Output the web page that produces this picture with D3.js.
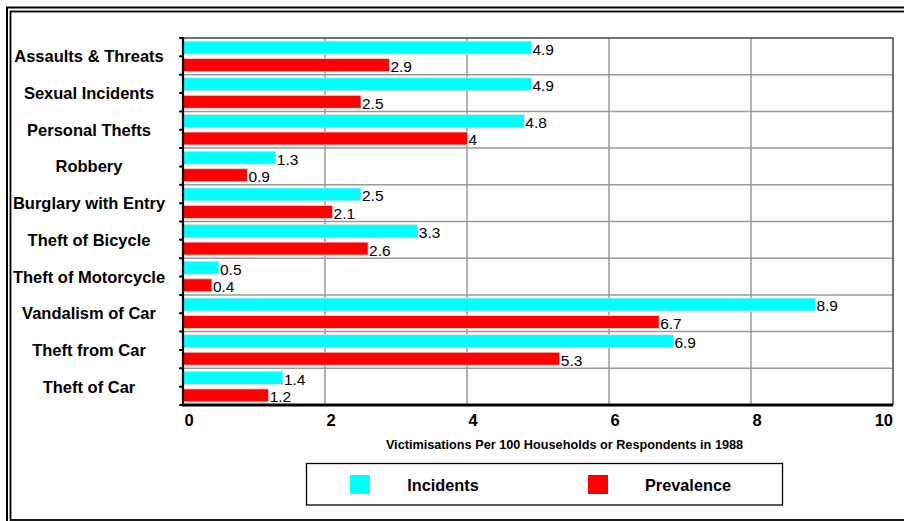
<!DOCTYPE html>
<html>
<head>
<meta charset="utf-8">
<script src="https://cdn.jsdelivr.net/npm/d3@7"></script>
<style>
  html, body { margin: 0; padding: 0; background: #fff; }
  svg { display: block; font-family: "Liberation Sans", Arial, sans-serif; }
</style>
</head>
<body>
<svg id="chart" width="904" height="521"></svg>
<script>
// Crime categories, top to bottom
const categories = [
  "Assaults & Threats", "Sexual Incidents", "Personal Thefts", "Robbery",
  "Burglary with Entry", "Theft of Bicycle", "Theft of Motorcycle",
  "Vandalism of Car", "Theft from Car", "Theft of Car"
];
// Victimisations per 100 households or respondents, 1988
const incidents  = [4.9, 4.9, 4.8, 1.3, 2.5, 3.3, 0.5, 8.9, 6.9, 1.4];
const prevalence = [2.9, 2.5, 4, 0.9, 2.1, 2.6, 0.4, 6.7, 5.3, 1.2];
const seriesNames = ["Incidents", "Prevalence"];
const seriesColors = ["#00ffff", "#ff0000"];
const xTicks = [0, 2, 4, 6, 8, 10];
const xTitle = "Victimisations Per 100 Households or Respondents in 1988";

const rows = categories.map((c, i) => ({ cat: c, values: [incidents[i], prevalence[i]] }));

const svg = d3.select("#chart");

// Double frame around the whole figure
svg.append("rect").attr("x", 7).attr("y", 7.5).attr("width", 920).attr("height", 540)
  .attr("fill", "none").attr("stroke", "#000").attr("stroke-width", 2);
svg.append("rect").attr("x", 10.5).attr("y", 11.5).attr("width", 910).attr("height", 508.5)
  .attr("fill", "none").attr("stroke", "#000").attr("stroke-width", 1.8);

const plot = { left: 183, right: 893, top: 38, bottom: 405 };

const x = d3.scaleLinear().domain([0, 10]).range([plot.left, plot.right]);
const y = d3.scaleBand().domain(categories).range([plot.top, plot.bottom]);
const ySub = d3.scaleBand().domain(seriesNames).range([0, y.bandwidth()])
  .paddingInner(0.26).paddingOuter(0.18);

const g = svg.append("g");

// Vertical gridlines
g.selectAll("line.vgrid").data(xTicks.slice(1, -1)).join("line")
  .attr("class", "vgrid")
  .attr("x1", d => x(d)).attr("x2", d => x(d))
  .attr("y1", plot.top).attr("y2", plot.bottom)
  .attr("stroke", "#9a9a9a").attr("stroke-width", 1.5);

// Horizontal gridlines between categories
g.selectAll("line.hgrid").data(categories.slice(1)).join("line")
  .attr("class", "hgrid")
  .attr("x1", plot.left).attr("x2", plot.right)
  .attr("y1", d => y(d)).attr("y2", d => y(d))
  .attr("stroke", "#9a9a9a").attr("stroke-width", 1.5);

// Top and right frame of plot area
g.append("path")
  .attr("d", `M${plot.left},${plot.top}H${plot.right}V${plot.bottom}`)
  .attr("fill", "none").attr("stroke", "#444").attr("stroke-width", 1.5);

// Bars
const rowG = g.selectAll("g.row").data(rows).join("g")
  .attr("class", "row")
  .attr("transform", d => `translate(0,${y(d.cat)})`);

rowG.selectAll("rect").data(d => d.values.map((v, i) => ({ v, s: seriesNames[i], i }))).join("rect")
  .attr("x", x(0) + 0.5)
  .attr("y", d => ySub(d.s))
  .attr("width", d => x(d.v) - x(0))
  .attr("height", ySub.bandwidth())
  .attr("fill", d => seriesColors[d.i])
  .attr("stroke", "#e8d8d8").attr("stroke-width", 0.8);

// Value labels at bar ends
rowG.selectAll("text.val").data(d => d.values.map((v, i) => ({ v, s: seriesNames[i] }))).join("text")
  .attr("class", "val")
  .attr("x", d => x(d.v) + 1.5)
  .attr("y", d => ySub(d.s) + ySub.bandwidth() + 0.5)
  .attr("font-size", 15.5)
  .attr("fill", "#000")
  .text(d => d.v);

// Y axis line and tick marks
const axisG = svg.append("g");
axisG.append("line")
  .attr("x1", plot.left).attr("x2", plot.left)
  .attr("y1", plot.top).attr("y2", plot.bottom)
  .attr("stroke", "#000").attr("stroke-width", 2.2);
const halfTicks = d3.range(0, categories.length * 2 + 1).map(k => plot.top + k * y.bandwidth() / 2);
axisG.selectAll("line.ytick").data(halfTicks).join("line")
  .attr("class", "ytick")
  .attr("x1", plot.left - 3).attr("x2", plot.left)
  .attr("y1", d => d).attr("y2", d => d)
  .attr("stroke", "#000").attr("stroke-width", 2).attr("stroke-linecap", "round");

// X axis line
axisG.append("line")
  .attr("x1", plot.left - 1).attr("x2", plot.right)
  .attr("y1", plot.bottom).attr("y2", plot.bottom)
  .attr("stroke", "#000").attr("stroke-width", 2.8);

// Category labels
svg.selectAll("text.cat").data(categories).join("text")
  .attr("class", "cat")
  .attr("x", 89)
  .attr("y", d => y(d) + y.bandwidth() / 2 + 6)
  .attr("text-anchor", "middle")
  .attr("font-weight", "bold")
  .attr("font-size", 16.5)
  .text(d => d);

// X tick labels
svg.selectAll("text.xtick").data(xTicks).join("text")
  .attr("class", "xtick")
  .attr("x", (d, i) => i === xTicks.length - 1 ? plot.right : x(d) + 6)
  .attr("y", 425.5)
  .attr("text-anchor", (d, i) => i === xTicks.length - 1 ? "end" : "middle")
  .attr("font-weight", "bold")
  .attr("font-size", 16.5)
  .text(d => d);

// X axis title
svg.append("text")
  .attr("x", 564.5).attr("y", 448.5)
  .attr("text-anchor", "middle")
  .attr("font-weight", "bold")
  .attr("font-size", 12.7)
  .text(xTitle);

// Legend
const legend = svg.append("g");
legend.append("rect")
  .attr("x", 306.5).attr("y", 463.5).attr("width", 476).attr("height", 41.5)
  .attr("fill", "#fff").attr("stroke", "#000").attr("stroke-width", 1.3);
const legendItems = [
  { name: seriesNames[0], color: seriesColors[0], sx: 350, tx: 443 },
  { name: seriesNames[1], color: seriesColors[1], sx: 588, tx: 688 }
];
legend.selectAll("rect.sw").data(legendItems).join("rect")
  .attr("class", "sw")
  .attr("x", d => d.sx).attr("y", 475)
  .attr("width", 20).attr("height", 19)
  .attr("fill", d => d.color);
legend.selectAll("text.lt").data(legendItems).join("text")
  .attr("class", "lt")
  .attr("x", d => d.tx).attr("y", 490.5)
  .attr("text-anchor", "middle")
  .attr("font-weight", "bold")
  .attr("font-size", 16.3)
  .text(d => d.name);
</script>
</body>
</html>
